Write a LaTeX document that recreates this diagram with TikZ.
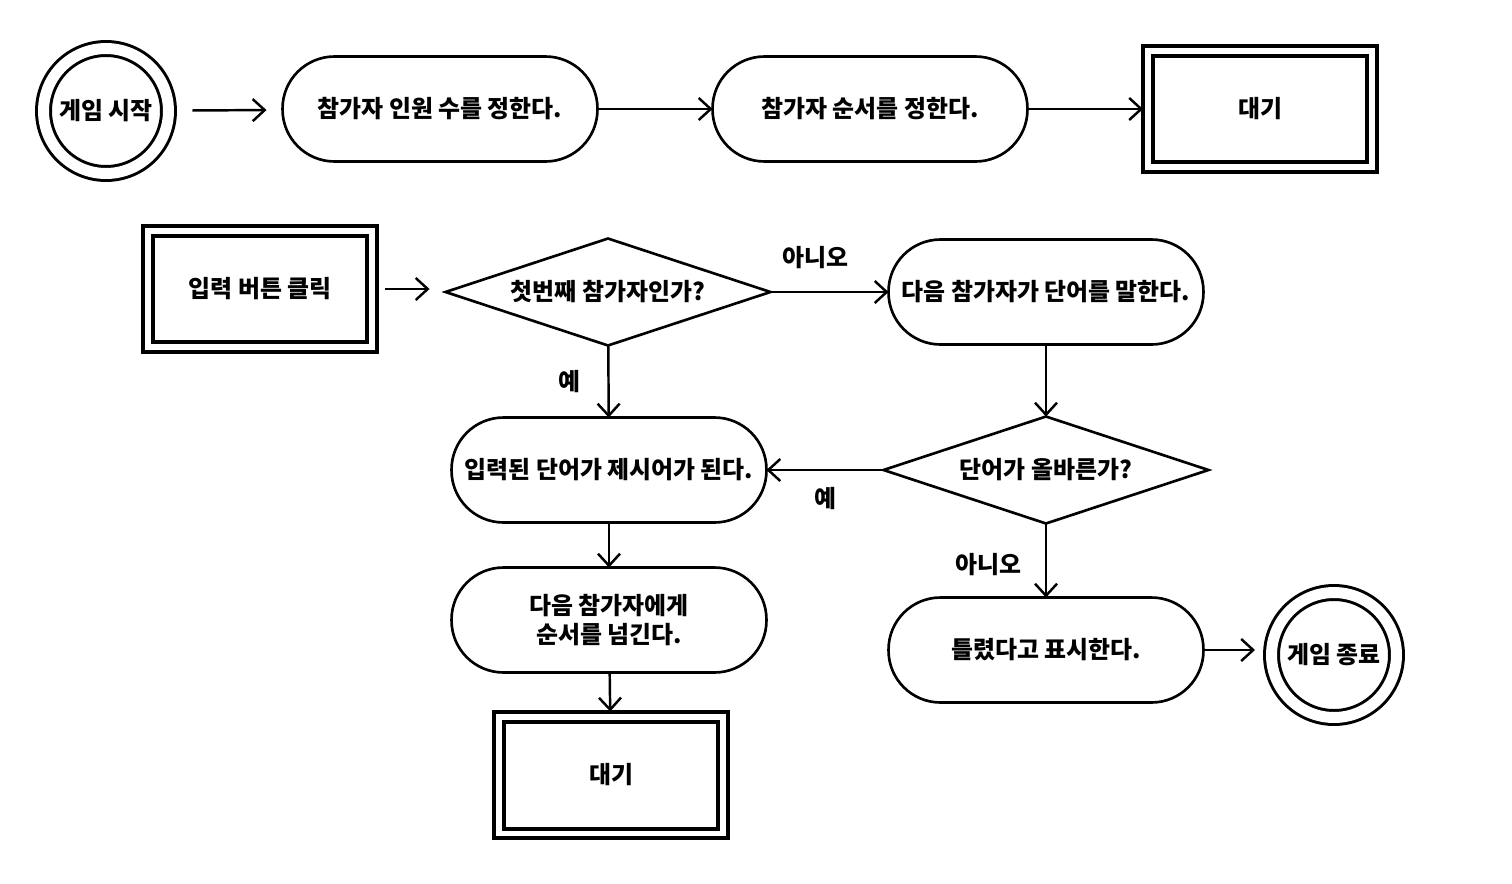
\documentclass[tikz,border=0pt]{standalone}
\usepackage{fontspec}
\setmainfont{Noto Sans CJK KR}
\usetikzlibrary{arrows.meta,shapes.geometric}

\begin{document}
\begin{tikzpicture}[
  x=0.02cm, y=-0.02cm,
  every node/.style={font=\bfseries\fontsize{13.6}{17}\selectfont, align=center, outer sep=0pt},
  proc/.style={draw, line width=1.5pt, rectangle, rounded corners=1.04cm, minimum width=6.3cm, minimum height=2.1cm},
  waitbox/.style={draw, line width=0.08cm, double, double distance=0.12cm, minimum width=4.48cm, minimum height=2.34cm},
  terminal/.style={draw, line width=1.7pt, circle, double, double distance=0.22cm, minimum size=2.5cm, inner sep=0pt},
  decision/.style={draw, line width=1.5pt, diamond, minimum width=6.5cm, minimum height=2.14cm, inner sep=0pt},
  edge/.style={-{Straight Barb[length=2.4mm,width=4.4mm]}, line width=1.4pt}
]
\useasboundingbox (0,0) rectangle (1512,883);

% Top row
\node[terminal] (start) at (106,111) {게임 시작};
\node[proc] (count) at (440,109) {참가자 인원 수를 정한다.};
\node[proc] (order) at (870,109) {참가자 순서를 정한다.};
\node[waitbox] (wait1) at (1260,109) {대기};

% Input and first check
\node[waitbox] (input) at (260,289) {입력 버튼 클릭};
\node[decision] (first) at (608,292) {\makebox[0pt]{첫번째 참가자인가?}};
\node[proc] (say) at (1046,292) {다음 참가자가 단어를 말한다.};

% Word check
\node[decision] (check) at (1046,470) {\makebox[0pt]{단어가 올바른가?}};
\node[proc] (setword) at (609,470) {입력된 단어가 제시어가 된다.};
\node[proc] (next) at (609,620) {다음 참가자에게\\순서를 넘긴다.};
\node[waitbox] (wait2) at (611,775) {대기};
\node[proc] (wrong) at (1046,650) {틀렸다고 표시한다.};
\node[terminal] (finish) at (1334,655) {게임 종료};

% Top row edges
\draw[edge, shorten <=0.48cm, shorten >=0.32cm] (start) -- (count);
\draw[edge] (count) -- (order);
\draw[edge, shorten >=0.1cm] (order) -- (wait1);

% Second row edges
\draw[edge, shorten <=0.27cm, shorten >=0.32cm] (input) -- (input -| first.west);
\draw[edge] (first) -- (say) node[pos=0.38, above=0.35cm] {아니오};
\draw[edge] (first) -- (setword) node[midway, left=0.45cm] {예};
\draw[edge] (say) -- (check);
\draw[edge] (check) -- (setword) node[midway, below=0.23cm] {예};
\draw[edge] (check) -- (wrong) node[pos=0.55, left=0.38cm] {아니오};

% Lower edges
\draw[edge] (setword) -- (next);
\draw[edge, shorten >=0.1cm] (next) -- (wait2);
\draw[edge, shorten >=0.33cm] (wrong) -- (wrong -| finish.west);

\end{tikzpicture}
\end{document}
